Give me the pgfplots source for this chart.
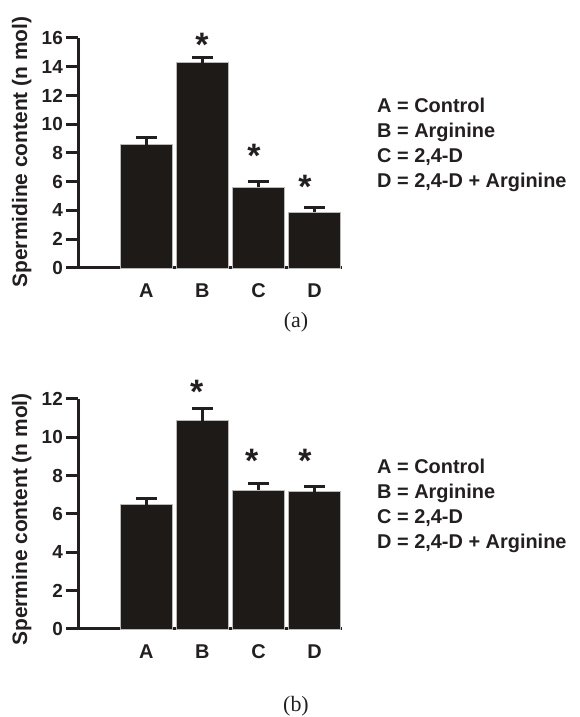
\documentclass[border=0pt]{standalone}
\usepackage{pgfplots}
\pgfplotsset{compat=1.18}
\usepackage{fontspec}
\setmainfont{Liberation Sans}
\newfontfamily\timesf{Liberation Serif}
\definecolor{ink}{HTML}{231F20}
\definecolor{barc}{HTML}{1E1A17}
\pgfplotsset{
  panel/.style={
    scale only axis, width=264bp, height=230bp,
    xmin=-1.22, xmax=3.49, ymin=0,
    clip=false,
    axis x line*=bottom, axis y line*=left,
    axis line style={line width=3bp, color=ink, -},
    xtick={0,1,2,3}, xticklabels={A,B,C,D},
    xtick style={draw=none},
    tick align=outside, major tick length=12bp,
    ytick style={line width=3bp, color=ink},
    /pgf/number format/assume math mode=true,
    yticklabel style={font=\fontsize{19}{19}\selectfont\bfseries, text=ink, anchor=east, inner sep=0pt, xshift=-3bp},
    xticklabel style={font=\fontsize{20}{20}\selectfont\bfseries, text=ink, anchor=north, inner sep=0pt, text height=14.3bp, text depth=0pt, yshift=-3bp},
  },
  bars/.style={
    ybar, bar width=52bp, fill=barc, draw=gray!55, line width=0.8bp,
    error bars/.cd, y dir=plus, y explicit,
    error bar style={line width=3.5bp, color=ink},
    error mark options={rotate=90, line width=3bp, mark size=10.5bp, color=ink},
  },
}
\tikzset{
  star/.style={anchor=north, inner sep=0pt, font=\fontsize{34}{34}\selectfont\bfseries, text=ink},
  leg/.style={anchor=base west, inner sep=0pt, font=\fontsize{20}{20}\selectfont\bfseries, text=ink},
  ylab/.style={rotate=90, anchor=base, inner sep=0pt, font=\fontsize{21}{21}\selectfont\bfseries, text=ink},
  plab/.style={anchor=base, inner sep=0pt, font=\timesf\fontsize{22}{22}\selectfont, text=ink},
}
\begin{document}
\begin{tikzpicture}[x=1bp,y=1bp]
\useasboundingbox (0,0) rectangle (580,717);
% panel (a)
\begin{axis}[panel, at={(78bp,449bp)}, anchor=south west, ymax=16, ytick={0,2,...,16}]
\addplot[bars] coordinates {
  (0,8.59) +- (0,0.48)
  (1,14.28) +- (0,0.37)
  (2,5.60) +- (0,0.44)
  (3,3.87) +- (0,0.32)
};
\node[star] at (axis cs:0.99,16.35) {*};
\node[star] at (axis cs:1.92,8.63) {*};
\node[star] at (axis cs:2.83,6.47) {*};
\end{axis}
% panel (b)
\begin{axis}[panel, at={(78bp,88bp)}, anchor=south west, ymax=12, ytick={0,2,...,12}]
\addplot[bars] coordinates {
  (0,6.49) +- (0,0.30)
  (1,10.87) +- (0,0.61)
  (2,7.25) +- (0,0.36)
  (3,7.16) +- (0,0.26)
};
\node[star] at (axis cs:0.90,12.99) {*};
\node[star] at (axis cs:1.88,9.39) {*};
\node[star] at (axis cs:2.83,9.39) {*};
\end{axis}
% y labels
\node[ylab] at (27,565) {Spermidine content (n mol)};
\node[ylab] at (27,197.5) {Spermine content (n mol)};
% legends
\node[leg] at (377,604.7) {A = Control};
\node[leg] at (377,579.7) {B = Arginine};
\node[leg] at (377,554.7) {C = 2,4-D};
\node[leg] at (377,529.7) {D = 2,4-D + Arginine};
\node[leg] at (377,243.7) {A = Control};
\node[leg] at (377,218.7) {B = Arginine};
\node[leg] at (377,193.7) {C = 2,4-D};
\node[leg] at (377,168.7) {D = 2,4-D + Arginine};
% panel labels
\node[plab] at (296,389) {(a)};
\node[plab] at (296,5) {(b)};
\end{tikzpicture}
\end{document}
